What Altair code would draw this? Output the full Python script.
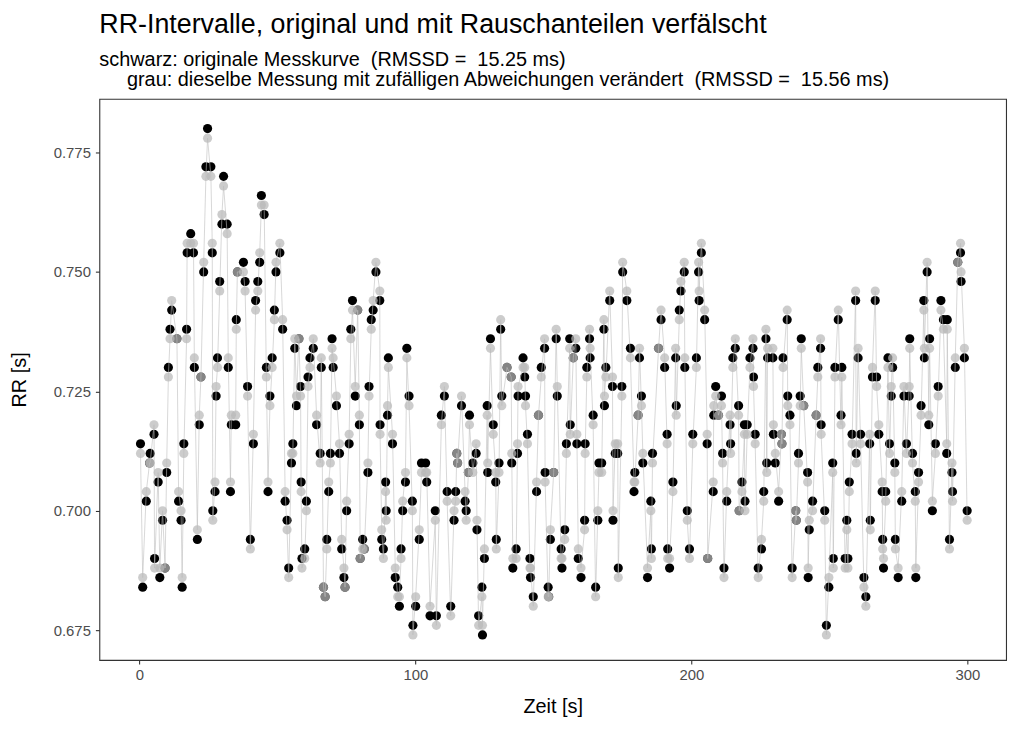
import altair as alt
import pandas as pd

# Zeitpunkte der Herzschläge [s]
zeit = [
    0.4, 1.2, 2.5, 3.7, 3.9, 5.3, 5.5, 6.8, 7.4, 8.4, 9.3, 9.9, 10.5, 11.1, 11.7, 13.6, 14.2, 15.1, 15.5, 16.1,
    17.1, 17.3, 18.6, 19.6, 19.9, 21.0, 21.7, 22.3, 23.3, 24.1, 24.7, 25.9, 26.4, 26.6,
    27.4, 27.8, 28.3, 29.1, 29.9, 30.5, 31.8, 32.2, 33.0, 33.3, 34.9, 35.1, 35.5, 37.7, 38.3, 39.2, 40.2, 41.3,
    42.1, 42.9, 43.6, 44.2, 45.2, 46.0, 46.6, 47.3, 48.1, 48.9, 49.5, 50.9, 51.9, 52.8, 53.5, 54.1, 55.1, 55.6,
    56.3, 56.9, 57.8, 58.4,
    58.6, 58.9, 59.9, 60.5, 61.1, 61.8, 63.0, 64.2, 65.5, 65.9, 66.7, 67.3, 67.9, 68.6, 69.2, 69.8, 70.2, 71.4,
    72.5, 73.3, 74.1, 74.5, 75.1, 76.0, 76.6, 77.2, 78.2, 79.1, 79.7, 80.0, 80.9, 81.5, 82.8, 83.2, 84.0, 84.7,
    85.7, 87.1, 87.2, 87.8, 88.4,
    89.2, 89.4, 89.9, 90.2, 91.7, 92.7, 93.6, 94.2, 94.8, 95.4, 96.4, 96.9, 97.7, 98.9, 99.1, 100.1, 101.4, 102.2,
    103.7, 104.1, 105.3, 107.2, 107.6, 109.4, 110.5, 111.5, 112.8, 114.0, 114.6, 115.0, 115.3, 116.7, 118.0, 118.4,
    119.2, 119.6, 120.8, 122.0, 122.3, 122.9, 124.1, 124.3, 125.0, 126.0, 126.2, 127.2, 128.2, 129.1, 129.3, 130.3,
    130.9, 131.3, 133.2, 134.7, 134.9, 135.3, 136.5, 137.0, 137.2, 139.0, 139.6, 139.9, 140.6, 141.5, 141.7, 142.7,
    143.9, 144.6, 145.6, 146.8, 147.0, 148.1, 148.3, 148.9,
    150.1, 151.0, 151.4, 152.8, 153.1, 154.1, 154.7, 155.9, 156.1, 157.2, 158.1, 158.5, 159.0, 160.0, 161.3, 161.5,
    162.1, 163.1, 163.3, 164.4, 165.3, 166.1, 166.5, 167.5, 168.3, 168.5, 169.0, 170.4, 171.4, 171.6, 172.4, 173.3,
    173.5, 174.8, 175.1, 176.6, 177.9, 179.2, 179.5,
    180.7, 181.2, 181.9, 182.4, 184.1, 185.3, 185.5, 185.9, 188.1, 189.0, 190.3, 191.2, 191.4, 192.1, 193.3, 194.3,
    194.5, 195.6, 196.2, 197.4, 197.6, 198.5, 199.3, 200.5, 201.8, 202.6, 202.8, 203.6, 204.8, 205.7, 205.9, 207.9,
    208.1, 208.8, 209.8,
    210.9, 211.3, 211.8, 212.8, 214.0, 214.2, 215.0, 215.9, 217.1, 217.3, 218.3, 219.2, 219.4, 220.2, 221.2, 222.3,
    222.5, 223.1, 224.2, 225.4, 226.2, 227.0, 227.3, 227.6, 229.5, 229.7, 230.4, 231.6, 232.6, 232.8, 233.2, 234.7,
    234.9, 235.7, 236.5, 237.8, 238.0, 238.8, 239.4, 239.8, 240.7,
    242.1, 242.3, 242.7, 243.9, 245.2, 245.8, 246.8, 247.0, 248.3, 248.9, 249.8, 251.2, 251.4, 252.0, 253.2, 254.2,
    254.5, 255.7, 256.3, 256.7, 257.2, 258.2, 259.5, 259.7, 260.4, 261.3, 262.5, 263.2, 264.6, 264.8, 265.6, 266.6,
    267.1, 267.9, 269.1, 269.3, 269.6, 270.4, 271.2,
    271.8, 272.4, 272.9, 273.7, 273.9, 274.9, 276.2, 277.0, 277.9, 278.9, 279.1, 280.1, 281.1, 281.3, 282.3, 283.2,
    284.2, 284.4, 285.4, 286.0, 286.3, 287.3, 288.4, 289.4, 290.4, 291.3, 292.5, 292.7, 293.5, 294.4, 294.6, 295.6,
    296.5, 297.5, 297.7, 298.9, 299.9,
]

# originale RR-Intervalle [s] (schwarz)
rr_original = [
    0.714, 0.684, 0.702, 0.710, 0.712, 0.716, 0.690, 0.706, 0.686, 0.698, 0.688, 0.708, 0.730, 0.738, 0.742, 0.736,
    0.702, 0.698, 0.684, 0.714, 0.738, 0.754, 0.758, 0.754, 0.730, 0.694, 0.718, 0.728, 0.750, 0.772, 0.780, 0.772,
    0.754, 0.700,
    0.704, 0.724, 0.732, 0.748, 0.760, 0.770, 0.760, 0.730, 0.704, 0.718, 0.718, 0.740, 0.750, 0.752, 0.748, 0.726,
    0.694, 0.714, 0.744, 0.748, 0.752, 0.766, 0.762, 0.730, 0.704, 0.724, 0.732, 0.742, 0.750, 0.754, 0.738, 0.702,
    0.698, 0.688, 0.710, 0.714, 0.734, 0.722, 0.736, 0.726,
    0.706, 0.690, 0.692, 0.702, 0.728, 0.732, 0.734, 0.718, 0.712, 0.730, 0.684, 0.682, 0.694, 0.704, 0.712, 0.736,
    0.730, 0.722, 0.712, 0.692, 0.686, 0.684, 0.700, 0.714, 0.738, 0.744, 0.724, 0.742, 0.718, 0.690, 0.694, 0.692,
    0.708, 0.726, 0.740, 0.742, 0.750, 0.744, 0.718, 0.694, 0.692,
    0.706, 0.700, 0.720, 0.732, 0.714, 0.686, 0.684, 0.680, 0.692, 0.700, 0.706, 0.734, 0.724, 0.702, 0.676, 0.680,
    0.694, 0.710, 0.710, 0.706, 0.678, 0.700, 0.678, 0.720, 0.724, 0.704, 0.680, 0.698, 0.704, 0.712, 0.710, 0.722,
    0.702, 0.700,
    0.708, 0.720, 0.710, 0.712, 0.696, 0.678, 0.684, 0.674, 0.690, 0.722, 0.708, 0.736, 0.718, 0.706, 0.694, 0.710,
    0.738, 0.724, 0.730, 0.728, 0.710, 0.688, 0.692, 0.712, 0.724, 0.732, 0.728, 0.724, 0.716, 0.690, 0.686, 0.682,
    0.704, 0.720, 0.730, 0.734, 0.708, 0.684, 0.682, 0.694,
    0.708, 0.736, 0.724, 0.692, 0.688, 0.696, 0.714, 0.736, 0.718, 0.732, 0.734, 0.714, 0.690, 0.686, 0.698, 0.714,
    0.730, 0.736, 0.732, 0.720, 0.684, 0.698, 0.710, 0.710, 0.738, 0.722, 0.730, 0.744, 0.726, 0.698, 0.712, 0.712,
    0.688, 0.726, 0.750, 0.744, 0.734, 0.704, 0.708,
    0.720, 0.732, 0.724, 0.710, 0.686, 0.702, 0.692, 0.712, 0.734, 0.740, 0.730, 0.716, 0.692, 0.688, 0.706, 0.732,
    0.722, 0.742, 0.746, 0.750, 0.730, 0.700, 0.692, 0.716, 0.732, 0.750, 0.744, 0.754, 0.740, 0.714, 0.690, 0.704,
    0.720, 0.726, 0.720,
    0.724, 0.712, 0.688, 0.702, 0.718, 0.714, 0.732, 0.734, 0.722, 0.700, 0.706, 0.718, 0.702, 0.718, 0.732, 0.734,
    0.728, 0.716, 0.688, 0.692, 0.704, 0.736, 0.710, 0.732, 0.732, 0.716, 0.710, 0.702, 0.716, 0.714, 0.732, 0.740,
    0.724, 0.720, 0.688, 0.700, 0.698, 0.712, 0.724, 0.736, 0.722,
    0.708, 0.686, 0.696, 0.702, 0.720, 0.730, 0.734, 0.718, 0.700, 0.676, 0.684, 0.710, 0.690, 0.730, 0.740, 0.720,
    0.730, 0.690, 0.698, 0.690, 0.706, 0.716, 0.744, 0.712, 0.732, 0.716, 0.686, 0.682, 0.714, 0.698, 0.728, 0.744,
    0.728, 0.716, 0.704, 0.694, 0.688, 0.704, 0.732,
    0.714, 0.724, 0.730, 0.710, 0.694, 0.686, 0.702, 0.724, 0.714, 0.724, 0.736, 0.712, 0.704, 0.686, 0.708, 0.722,
    0.744, 0.732, 0.750, 0.718, 0.736, 0.700, 0.714, 0.726, 0.744, 0.740, 0.712, 0.740, 0.694, 0.708, 0.704, 0.730,
    0.752, 0.754, 0.748, 0.732, 0.700,
]

# zufällige Abweichung der grauen Messung gegenüber der originalen [ms]
abweichung_ms = [
    -2, 2, 2, 0, -2, 2, -2, 2, 2, 2, 0, 2, -2, -2, 2, 0, 2, 2, 2, -2, -2, 2, -2, 2, 2, 2, 2, 0, 2, -2, -2, -2, 2, -2,
    2, 2, -2, -2, 2, -2, -2, 2, 2, 2, 2, -2, 0, -2, -2, -2, -2, 2, -2, -2, 2, -2, 2, -2, 2, -2, -2, -2, 2, 2,
    2, 2, -2, -2, 2, -2, 2, 2, 0, -2,
    -2, -2, -2, -2, -2, -2, 2, 2, -2, 2, 0, 0, -2, 2, -2, -2, 2, 2, 2, 2, 2, 0, 2, 2, -2, -2, 2, 0, 2, 0,
    -2, 0, 2, -2, -2, 2, 2, 2, -2, 2, -2,
    -2, -2, 2, -2, 2, 2, -2, 2, -2, 2, 2, -2, -2, -2, -2, 2, 2, -2, -2, 2, 2, -2, -2, -2, 2, -2, -2, 2, -2, 0,
    0, 2, 2, -2,
    0, -2, -2, 2, 2, -2, -2, 2, 2, -2, 2, -2, -2, 2, -2, -2, 2, -2, 0, 0, 2, 2, -2, 2, 2, -2, 2, -2, -2, -2,
    2, -2, 2, 0, -2, 2, -2, -2, 0, 2,
    0, 2, 2, -2, 2, -2, -2, -2, -2, 0, 2, 2, 2, 2, -2, -2, -2, 2, 2, -2, -2, 2, -2, -2, 2, 2, -2, 2, 2, 2,
    2, 2, -2, -2, 2, 2, -2, 2, -2,
    0, 2, -2, 2, 2, -2, -2, -2, 0, 2, 2, -2, -2, 2, -2, 2, -2, -2, 2, 2, 2, -2, -2, -2, -2, 2, 2, 2, 2, 2,
    0, 2, 2, -2, 0,
    -2, -2, -2, 2, 2, -2, -2, 2, -2, 0, -2, -2, -2, -2, -2, 2, -2, -2, -2, 2, -2, 2, -2, 2, 2, 2, 2, 2, 0, 0,
    -2, 2, -2, -2, -2, 0, 0, -2, -2, -2, 0,
    -2, 2, 2, -2, 0, -2, 2, -2, -2, -2, 2, -2, -2, -2, 2, -2, -2, -2, -2, -2, -2, -2, 2, -2, 2, -2, -2, -2, 2, -2,
    2, 2, -2, 2, 2, -2, 2, -2, -2,
    -2, 2, 2, -2, -2, 2, 2, 2, -2, 2, -2, -2, -2, 2, -2, -2, -2, 2, 2, 2, -2, 2, -2, -2, -2, -2, 2, -2, -2, 2,
    -2, 2, 0, 2, 2, 2, -2,
]

rr_grau = [round(r + a / 1000.0, 3) for r, a in zip(rr_original, abweichung_ms)]
df = pd.DataFrame({"Zeit": zeit, "orig": rr_original, "grau": rr_grau})

FONT = "Liberation Sans"
X_DOMAIN = [-14.5, 314.0]
Y_DOMAIN = [0.66876, 0.78623]
W, H = 913, 565

x_enc = alt.X(
    "Zeit:Q",
    scale=alt.Scale(domain=X_DOMAIN, nice=False, zero=False),
    axis=alt.Axis(values=[0, 100, 200, 300], title="Zeit [s]", labelPadding=4,
                  titleX=W / 2, titleY=47, titleBaseline="middle", titleAlign="center"),
)


def y_enc(field):
    return alt.Y(
        f"{field}:Q",
        scale=alt.Scale(domain=Y_DOMAIN, nice=False, zero=False),
        axis=alt.Axis(values=[0.675, 0.7, 0.725, 0.75, 0.775], format=".3f", title="RR [s]",
                      labelPadding=5, titleX=-80, titleY=H / 2, titleAngle=270,
                      titleBaseline="middle", titleAlign="center"),
    )


base = alt.Chart(df)
schwarz = base.mark_circle(size=85, color="black", opacity=1).encode(x=x_enc, y=y_enc("orig"))
grau = base.mark_circle(size=85, color="#B8B8B8", opacity=0.72).encode(x=x_enc, y=y_enc("grau"))
linie = base.mark_line(color="#BDBDBD", strokeWidth=0.6).encode(
    x=x_enc, y=y_enc("grau"), order="Zeit:Q"
)

title = alt.Title(
    text="RR-Intervalle, original und mit Rauschanteilen verfälscht",
    subtitle=[
        "schwarz: originale Messkurve\u00a0\u00a0(RMSSD =\u00a0\u00a015.25 ms)",
        "\u200b" + "\u00a0" * 5
        + "grau: dieselbe Messung mit zufälligen Abweichungen verändert\u00a0\u00a0(RMSSD =\u00a0\u00a015.56 ms)",
    ],
    anchor="start",
    frame="group",
    font=FONT,
    fontSize=27,
    fontWeight="normal",
    color="black",
    subtitleFont=FONT,
    subtitleFontSize=20,
    subtitleColor="black",
    subtitleLineHeight=20,
    subtitlePadding=11,
    offset=8,
)

chart = (
    alt.layer(schwarz, grau, linie)
    .properties(
        width=W, height=H, title=title,
        autosize=alt.AutoSizeParams(type="none"),
        padding={"left": 92, "top": 89, "right": 10, "bottom": 60},
        background="white",
    )
    .configure_view(stroke="#333333", strokeWidth=1.1)
    .configure_axis(
        domain=False, grid=False, ticks=True, tickColor="#333333", tickSize=4, tickWidth=1.1,
        labelColor="#4D4D4D", labelFont=FONT, labelFontSize=15,
        titleFont=FONT, titleFontSize=20, titleFontWeight="normal", titleColor="black",
    )
)

chart.save("out.html", embed_options={"renderer": "svg", "actions": False})
